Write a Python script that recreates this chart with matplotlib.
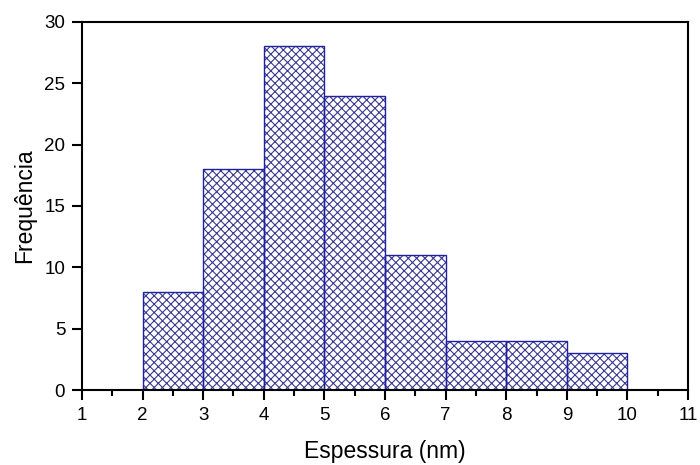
import matplotlib
matplotlib.use("Agg")
import matplotlib.pyplot as plt
from matplotlib.ticker import MultipleLocator

plt.rcParams['font.family'] = ['Liberation Sans', 'DejaVu Sans']
plt.rcParams['hatch.linewidth'] = 0.8

# Histogram of thickness (nm), bin edges and counts
bin_edges = [2, 3, 4, 5, 6, 7, 8, 9, 10]
counts = [8, 18, 28, 24, 11, 4, 4, 3]

fig = plt.figure(figsize=(7, 4.65), dpi=100)
ax = fig.add_axes([0.117, 0.161, 0.866, 0.792])

lefts = bin_edges[:-1]
widths = [b - a for a, b in zip(bin_edges[:-1], bin_edges[1:])]
# crosshatch fill first, then the bar outlines on top
ax.bar(lefts, counts, width=widths, align='edge', facecolor='white',
       edgecolor='#3a3a8e', linewidth=0, hatch='xxxx')
ax.bar(lefts, counts, width=widths, align='edge', fill=False,
       edgecolor='#2020a0', linewidth=1.0)

ax.set_xlim(1, 11)
ax.set_ylim(0, 30)
ax.xaxis.set_major_locator(MultipleLocator(1))
ax.xaxis.set_minor_locator(MultipleLocator(0.5))
ax.yaxis.set_major_locator(MultipleLocator(5))

for s in ax.spines.values():
    s.set_linewidth(1.5)
ax.tick_params(which='major', direction='out', length=7, width=1.5,
               labelsize=13.5, pad=5, top=False, right=False)
ax.tick_params(which='minor', direction='out', length=4, width=1.5,
               top=False, right=False)
ax.tick_params(axis='y', which='minor', left=False)

ax.set_xlabel('Espessura (nm)', fontsize=16.5, labelpad=12)
ax.set_ylabel('Frequência', fontsize=16.5, labelpad=6)

fig.savefig('out.png', dpi=100)
